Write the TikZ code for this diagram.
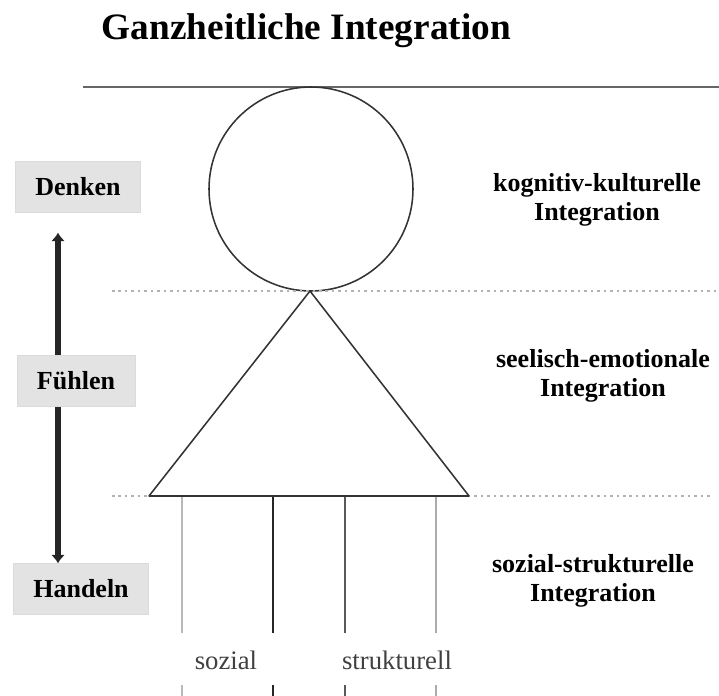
\documentclass[tikz,border=0pt]{standalone}
\usepackage{fontspec}
\setmainfont{Liberation Serif}
\usepackage{tikz}
\usetikzlibrary{arrows.meta}

\begin{document}
\begin{tikzpicture}[x=0.025cm,y=-0.025cm,
    levelbox/.style={fill=gray!22,draw=gray!28,inner xsep=0.5cm,
      minimum height=1.27cm,font=\fontsize{18.5}{21}\selectfont\bfseries},
    levellabel/.style={align=center,font=\fontsize{18.5}{21}\selectfont\bfseries},
    sepline/.style={gray!60,line width=1.4pt,dash pattern=on 1.8pt off 2.8pt},
    pillar/.style={line width=1.7pt}]
  \useasboundingbox (0,0) rectangle (719,696);
  \node[anchor=base west,font=\fontsize{26.5}{30}\selectfont\bfseries] (title) at (97,40)
    {Ganzheitliche Integration};
  \draw[black!60,line width=1.5pt] (83,87) -- (719,87);
  % head, body and legs
  \draw[black!80,line width=1.1pt] (311,189) circle[radius=102];
  \draw[sepline] (112,291) -- (716,291);
  \draw[sepline] (112,496) -- (710,496);
  \draw[black!80,line width=1.1pt,line join=round] (310,291) -- (149,496) -- (469,496) -- cycle;
  \draw[pillar,gray!55] (182,497) -- (182,633) (182,685) -- (182,696);
  \draw[pillar,black!85] (273,497) -- (273,633) (273,685) -- (273,696);
  \draw[pillar,black!65] (345,497) -- (345,633) (345,685) -- (345,696);
  \draw[pillar,gray!65] (436,497) -- (436,633) (436,685) -- (436,696);
  \node[font=\fontsize{19}{22}\selectfont,text=black!75] (soz) at (226,660) {sozial};
  \node[font=\fontsize{19}{22}\selectfont,text=black!75] (str) at (397,660) {strukturell};
  % left scale
  \coordinate (axis) at (58,0);
  \node[levelbox] (denken) at (78,187) {Denken};
  \node[levelbox] (handeln) at (81,589) {Handeln};
  \draw[black!85,line width=4pt,{Latex[length=6pt,width=10pt]}-{Latex[length=6pt,width=10pt]},
    shorten <=0.5cm] (denken.south -| axis) -- (handeln.north -| axis);
  \node[levelbox] (fuehlen) at (76,381) {Fühlen};
  % right labels
  \node[levellabel] (kog) at (597,200) {kognitiv-kulturelle\\Integration};
  \node[levellabel] (see) at (603,376) {seelisch-emotionale\\Integration};
  \node[levellabel] (soa) at (593,581) {sozial-strukturelle\\Integration};
\end{tikzpicture}
\end{document}
